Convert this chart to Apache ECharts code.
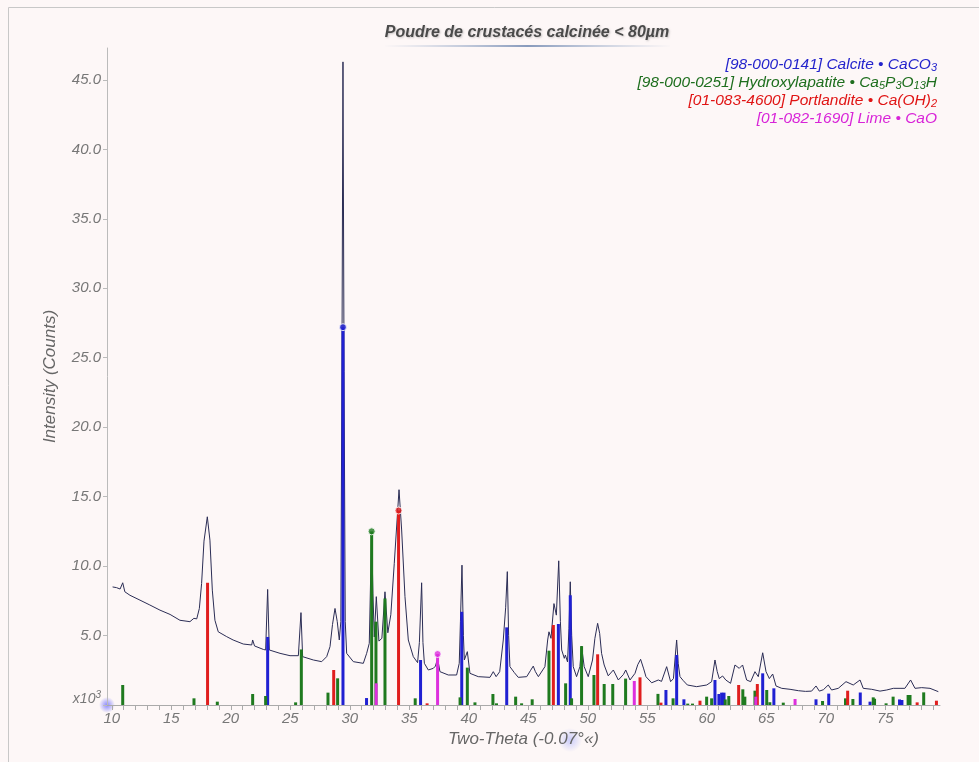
<!DOCTYPE html>
<html>
<head>
<meta charset="utf-8">
<title>Poudre de crustacés calcinée</title>
<script src="https://cdn.jsdelivr.net/npm/echarts@6/dist/echarts.min.js"></script>
<style>
  html, body { margin: 0; padding: 0; background: #fff; }
  #chart { width: 979px; height: 762px; }
</style>
</head>
<body>
<div id="chart"></div>
<script>
// measured pattern, intensity in thousands of counts
const profile = [
  [10.07, 8.5], [10.4, 8.45], [10.7, 8.35], [10.92, 8.8], [11.1, 8.15], [11.53, 7.9], [12.37, 7.55],
  [13.2, 7.2], [14.05, 6.83], [14.9, 6.52], [15.73, 6.1], [16.57, 6.0], [16.9, 6.24], [17.14, 6.2],
  [17.36, 6.95], [17.55, 8.75], [17.75, 11.8], [18.03, 13.55], [18.25, 11.87], [18.45, 8.27],
  [18.67, 6.1], [18.95, 5.27], [19.66, 4.92], [20.2, 4.68], [21.05, 4.39], [21.76, 4.32], [21.84, 4.68],
  [22.0, 4.25], [22.74, 4.0], [22.93, 3.96], [23.1, 8.32], [23.24, 3.96], [24.14, 3.72], [24.98, 3.55],
  [25.68, 3.55], [25.9, 6.65], [26.04, 3.48], [26.94, 3.24], [27.64, 3.12], [28.06, 3.48], [28.34, 4.2],
  [28.55, 5.8], [28.76, 6.95], [28.95, 6.0], [29.12, 4.68], [29.25, 6.0], [29.35, 26], [29.43, 46.3],
  [29.52, 24], [29.62, 6], [29.74, 3.72], [30.3, 3.12], [31.14, 3.0], [31.42, 3.72], [31.64, 4.44],
  [31.75, 9], [31.84, 12.3], [31.95, 8], [32.06, 4.9], [32.23, 7.8], [32.45, 4.6], [32.7, 4.8],
  [32.96, 8.15], [33.2, 5.2], [33.45, 6.5], [33.74, 10.2], [34.14, 15.5], [34.36, 12.6], [34.64, 7.8],
  [34.92, 4.68], [35.34, 3.48], [35.7, 3.05], [35.85, 4.5], [36.04, 8.8], [36.15, 4.5], [36.27, 3.0],
  [36.6, 2.52], [37.02, 2.64], [37.2, 2.8], [37.38, 3.36], [37.58, 2.4], [38.28, 2.16], [38.98, 2.16],
  [39.2, 3.0], [39.3, 6], [39.43, 10.07], [39.55, 5], [39.63, 3.24], [39.88, 3.84], [40.1, 2.28],
  [40.8, 2.04], [41.78, 1.99], [42.06, 2.4], [42.3, 2.04], [42.6, 2.4], [42.9, 4.68], [43.1, 7],
  [43.24, 9.6], [43.35, 5], [43.46, 2.76], [43.83, 2.33], [44.16, 1.99], [44.87, 2.04], [45.2, 2.5],
  [45.42, 2.8], [45.6, 2.4], [45.85, 2.04], [46.4, 2.76], [46.63, 4.68], [46.74, 5.27], [46.91, 4.8],
  [47.16, 7.3], [47.36, 6.47], [47.56, 10.38], [47.7, 6], [47.81, 3.96], [48.03, 3.36], [48.12, 3.6],
  [48.3, 3.1], [48.42, 5.5], [48.53, 8.87], [48.65, 5], [48.78, 2.76], [49.06, 2.04], [49.34, 2.76],
  [49.48, 4.24], [49.7, 2.76], [50.04, 2.04], [50.4, 3.24], [50.6, 4.8], [50.83, 5.88], [51.0, 5.16],
  [51.16, 3.72], [51.38, 2.88], [51.72, 2.1], [52.15, 2.52], [52.57, 1.8], [53.0, 2.2], [53.19, 2.52],
  [53.55, 1.8], [53.97, 2.28], [54.2, 2.9], [54.44, 3.29], [54.7, 2.6], [54.89, 2.04], [55.37, 1.6],
  [55.93, 1.8], [56.2, 1.7], [56.63, 2.76], [56.96, 1.68], [57.2, 1.9], [57.35, 3.5], [57.47, 4.68],
  [57.6, 3], [57.75, 2.04], [58.03, 1.75], [58.37, 1.44], [59.15, 1.32], [60.0, 1.44], [60.41, 1.68],
  [60.69, 3.24], [60.88, 2.4], [61.05, 1.9], [61.33, 2.09], [61.6, 1.8], [62.0, 1.56], [62.37, 2.88],
  [62.73, 2.64], [63.01, 2.88], [63.35, 1.8], [63.69, 1.68], [64.05, 2.4], [64.33, 2.04], [64.7, 3.76],
  [64.98, 2.4], [65.26, 1.9], [65.54, 2.23], [65.82, 1.37], [66.3, 1.2], [67.0, 1.13], [67.7, 1.03],
  [68.3, 0.98], [68.81, 1.0], [69.18, 1.37], [69.46, 1.0], [69.8, 1.1], [70.21, 1.44], [70.49, 1.08],
  [71.05, 1.2], [71.7, 1.68], [72.31, 1.44], [72.88, 1.8], [73.15, 1.2], [73.86, 1.13], [74.56, 1.0],
  [75.12, 1.08], [75.68, 1.2], [76.24, 1.2], [76.65, 1.2], [77.13, 1.8], [77.5, 1.2], [78.06, 1.25],
  [78.76, 1.2], [79.46, 0.96]
]

// reference stick patterns [two-theta, intensity x1000]
const calcite = [
  [23.1, 4.9], [29.43, 27.2], [31.41, 0.5], [35.95, 3.24], [39.41, 6.71], [43.19, 5.59], [47.53, 5.83],
  [48.53, 7.9], [56.57, 1.08], [57.47, 3.6], [58.08, 0.41], [60.69, 1.8], [61.02, 0.79], [61.25, 0.89],
  [61.45, 0.89], [64.7, 2.28], [65.64, 1.2], [69.18, 0.41], [70.25, 0.82], [72.9, 0.9], [73.72, 0.24],
  [76.2, 0.4], [76.4, 0.36]
]
const hydroxylapatite = [
  [10.92, 1.44], [16.91, 0.48], [18.87, 0.24], [21.84, 0.79], [22.93, 0.65], [25.45, 0.19], [25.93, 4.0],
  [28.17, 0.89], [28.98, 1.92], [31.84, 12.5], [32.2, 6.0], [32.96, 7.67], [35.5, 0.48], [39.27, 0.55],
  [39.88, 2.69], [40.52, 0.19], [42.03, 0.79], [42.33, 0.12], [43.94, 0.6], [44.44, 0.12], [45.33, 0.41],
  [46.74, 3.91], [48.14, 1.56], [48.64, 0.48], [49.48, 4.24], [50.52, 2.16], [51.38, 1.51], [52.1, 1.51],
  [53.18, 1.9], [55.9, 0.8], [57.17, 0.48], [58.4, 0.1], [58.8, 0.1], [59.99, 0.6], [60.41, 0.48],
  [61.55, 0.4], [61.85, 0.65], [63.03, 1.13], [63.2, 0.6], [64.05, 1.03], [65.04, 1.08], [65.3, 0.2],
  [66.43, 0.17], [69.73, 0.29], [71.66, 0.48], [72.28, 0.43], [73.99, 0.55], [74.1, 0.45], [75.07, 0.12],
  [75.66, 0.6], [76.92, 0.72], [77.08, 0.72], [78.23, 0.91]
]
const portlandite = [
  [18.05, 8.8], [28.65, 2.52], [34.1, 14.0], [36.5, 0.12], [47.11, 5.76], [50.83, 3.65], [54.39, 1.99],
  [56.15, 0.17], [59.43, 0.31], [62.68, 1.44], [64.25, 1.51], [71.84, 1.03], [77.68, 0.19], [79.3, 0.31]
]
const lime = [
  [32.22, 1.56], [37.38, 3.67], [53.91, 1.73], [64.12, 0.6], [67.42, 0.43]
]

const xLabels = [10, 15, 20, 25, 30, 35, 40, 45, 50, 55, 60, 65, 70, 75]
const xTicks = []
for (let t = 10; t <= 79; t++) xTicks.push(t)

const phases = [
  { name: 'Calcite', data: calcite, color: '#2020d2' },
  { name: 'Hydroxylapatite', data: hydroxylapatite, color: '#1f7a1f' },
  { name: 'Portlandite', data: portlandite, color: '#e01e1e' },
  { name: 'Lime', data: lime, color: '#dd2fdd' }
]

const font = '"Liberation Sans", Arial, sans-serif'

function stickSeries(p) {
  return {
    name: p.name,
    type: 'custom',
    z: 3,
    data: p.data,
    renderItem: function (params, api) {
      const top = api.coord([api.value(0), api.value(1)])
      const base = api.coord([api.value(0), 0])
      return {
        type: 'rect',
        shape: { x: top[0] - 1.5, y: top[1], width: 3, height: base[1] - top[1] },
        style: { fill: p.color }
      }
    }
  }
}

function topDot(p) {
  let best = p.data[0]
  p.data.forEach(d => { if (d[1] > best[1]) best = d })
  return {
    type: 'scatter',
    z: 4,
    data: [best],
    symbolSize: 7,
    itemStyle: { color: p.color, borderColor: '#fff', borderWidth: 1 }
  }
}

const legendRows = [
  { text: '[98-000-0141] Calcite • CaCO{s|3}', color: '#2424cc' },
  { text: '[98-000-0251] Hydroxylapatite • Ca{s|5}P{s|3}O{s|13}H', color: '#1e6e1e' },
  { text: '[01-083-4600] Portlandite • Ca(OH){s|2}', color: '#e01414' },
  { text: '[01-082-1690] Lime • CaO', color: '#d824d8' }
]

const chart = echarts.init(document.getElementById('chart'))

const option = {
  backgroundColor: '#fdf7f7',
  animation: false,
  grid: { left: 107, right: 39, top: 48, bottom: 57 },
  xAxis: {
    type: 'value',
    min: 9.6,
    max: 79.6,
    name: 'Two-Theta (-0.07°«)',
    nameLocation: 'middle',
    nameGap: 26,
    nameTextStyle: { fontFamily: font, fontStyle: 'italic', fontSize: 17, color: '#666' },
    axisLine: { lineStyle: { color: '#aaa' } },
    axisTick: { customValues: xTicks, length: 5, lineStyle: { color: '#aaa' } },
    axisLabel: {
      customValues: xLabels,
      fontFamily: font, fontStyle: 'italic', fontSize: 15, color: '#777', margin: 6
    },
    splitLine: { show: false }
  },
  yAxis: {
    type: 'value',
    min: 0,
    max: 47.3,
    interval: 5,
    name: 'Intensity (Counts)',
    nameLocation: 'middle',
    nameGap: 48,
    nameTextStyle: { fontFamily: font, fontStyle: 'italic', fontSize: 17, color: '#666' },
    axisLine: { show: true, lineStyle: { color: '#bbb' } },
    axisTick: { show: true, length: 4, lineStyle: { color: '#bbb' } },
    axisLabel: {
      showMaxLabel: false,
      fontFamily: font, fontStyle: 'italic', fontSize: 15, color: '#777', margin: 6,
      formatter: function (v) {
        if (v === 0) return '{x|x10}{sup|3}'
        return v.toFixed(1)
      },
      rich: {
        x: { fontFamily: font, fontStyle: 'italic', fontSize: 14, color: '#777', padding: [0, 0, 12, 0] },
        sup: { fontFamily: font, fontStyle: 'italic', fontSize: 10, color: '#777', padding: [0, 0, 20, 0] }
      }
    },
    splitLine: { show: false }
  },
  graphic: [
    {
      type: 'rect', z: -1, silent: true,
      shape: { x: 8.5, y: 7.5, width: 1000, height: 800 },
      style: { fill: 'none', stroke: '#c8c8c8', lineWidth: 1 }
    },
    {
      type: 'circle', z: 0, silent: true,
      shape: { cx: 107, cy: 705, r: 8 },
      style: {
        fill: new echarts.graphic.RadialGradient(0.5, 0.5, 0.5, [
          { offset: 0, color: 'rgba(110,110,255,0.8)' },
          { offset: 1, color: 'rgba(110,110,255,0)' }
        ])
      }
    },
    {
      type: 'rect', z: 0, silent: true,
      shape: { x: 525, y: 728, width: 90, height: 24 },
      style: {
        fill: new echarts.graphic.RadialGradient(0.5, 0.5, 0.5, [
          { offset: 0, color: 'rgba(140,150,255,0.45)' },
          { offset: 1, color: 'rgba(140,150,255,0)' }
        ])
      }
    },
    {
      type: 'text', silent: true,
      style: {
        x: 527, y: 33, text: 'Poudre de crustacés calcinée < 80µm',
        textAlign: 'center', textVerticalAlign: 'middle',
        fontFamily: font, fontStyle: 'italic', fontWeight: 'bold', fontSize: 16, fill: '#4a4a4a',
        textShadowColor: 'rgba(0,0,0,0.2)', textShadowBlur: 2, textShadowOffsetX: 1, textShadowOffsetY: 1
      }
    },
    {
      type: 'line', silent: true,
      shape: { x1: 385, y1: 46, x2: 670, y2: 46 },
      style: {
        lineWidth: 1.5,
        stroke: new echarts.graphic.LinearGradient(0, 0, 1, 0, [
          { offset: 0, color: 'rgba(120,150,190,0)' },
          { offset: 0.5, color: 'rgba(80,110,160,0.9)' },
          { offset: 1, color: 'rgba(120,150,190,0)' }
        ])
      }
    }
  ].concat(legendRows.map((r, i) => ({
    type: 'text', silent: true,
    style: {
      x: 937, y: 65 + i * 18, text: r.text,
      textAlign: 'right', textVerticalAlign: 'middle',
      fontFamily: font, fontStyle: 'italic', fontSize: 15.5, fill: r.color,
      rich: {
        s: { fontFamily: font, fontStyle: 'italic', fontSize: 11, fill: r.color, color: r.color, padding: [6, 0, 0, 0] }
      }
    }
  }))),
  series: [
    {
      type: 'line',
      z: 2,
      data: profile,
      showSymbol: false,
      lineStyle: { color: '#2b2d55', width: 1 }
    }
  ].concat(phases.map(stickSeries)).concat(phases.map(topDot))
}

chart.setOption(option)
</script>
</body>
</html>
